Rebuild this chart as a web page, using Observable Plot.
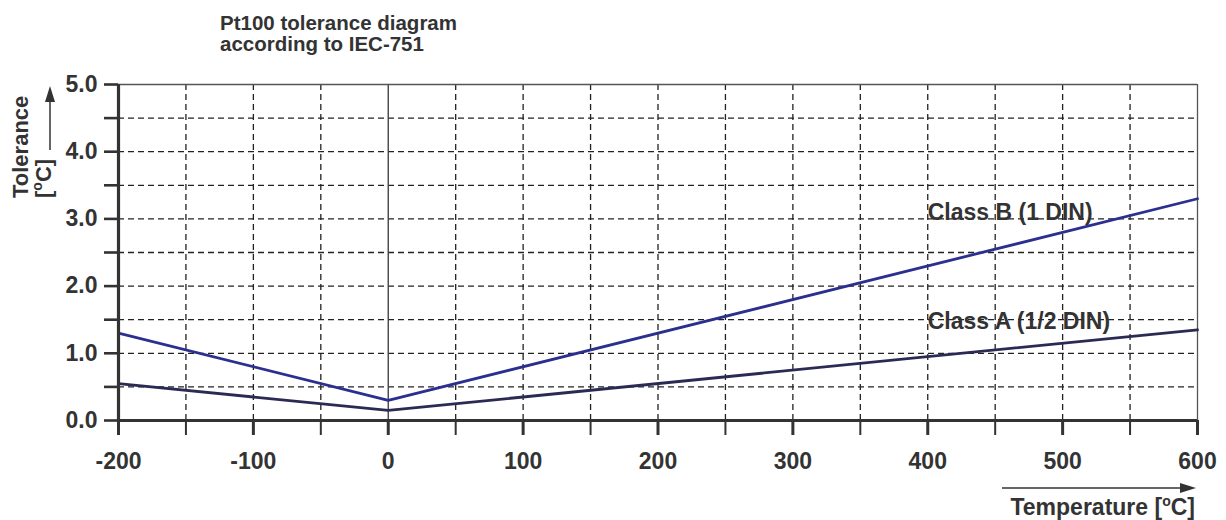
<!DOCTYPE html>
<html><head><meta charset="utf-8">
<script src="https://cdn.jsdelivr.net/npm/d3@7"></script>
<script src="https://cdn.jsdelivr.net/npm/@observablehq/plot@0.6"></script>
<style>body{margin:0;background:#fff} svg{display:block}</style>
</head><body><div id="chart"></div>
<script>
// Data
const temps = [-200, 0, 600];
const classB = [1.3, 0.3, 3.3];   // Class B (1 DIN): 0.3 + 0.005|t|
const classA = [0.55, 0.15, 1.35]; // Class A (1/2 DIN): 0.15 + 0.002|t|
const xMajorTicks = [-200, -100, 0, 100, 200, 300, 400, 500, 600];
const xMinorTicks = [-150, -50, 50, 150, 250, 350, 450, 550];
const yTicks = [0, 0.5, 1, 1.5, 2, 2.5, 3, 3.5, 4, 4.5, 5];
const yLabelTicks = [0, 1, 2, 3, 4, 5];
const xGrid = [-150, -100, -50, 50, 100, 150, 200, 250, 300, 350, 400, 450, 500, 550];
const yGrid = [0.5, 1, 1.5, 2, 2.5, 3, 3.5, 4, 4.5];
const seriesNames = ["Class B (1 DIN)", "Class A (1/2 DIN)"];
const labelPos = [{x: 400, y: 3.1}, {x: 400, y: 1.47}];

const rows = [];
temps.forEach((t, i) => {
  rows.push({series: seriesNames[0], t, tol: classB[i]});
  rows.push({series: seriesNames[1], t, tol: classA[i]});
});
const labels = seriesNames.map((s, i) => ({text: s, ...labelPos[i]}));

const font = "'Liberation Sans', Arial, Helvetica, sans-serif";
const ink = "#333";

const plot = Plot.plot({
  width: 1226, height: 520,
  marginLeft: 118, marginRight: 29, marginTop: 84, marginBottom: 100,
  x: {domain: [-200, 600], axis: null},
  y: {domain: [0, 5], axis: null},
  color: {domain: seriesNames, range: ["#2b2f8f", "#2a2a55"]},
  style: {fontFamily: font, fontWeight: "bold", fontSize: "23px", color: ink, background: "white", overflow: "visible"},
  marks: [
    Plot.ruleX(xGrid, {stroke: "#222", strokeWidth: 1.3, strokeDasharray: "6,4"}),
    Plot.ruleY(yGrid, {stroke: "#222", strokeWidth: 1.3, strokeDasharray: "6,4"}),
    Plot.ruleX([0], {stroke: "#444", strokeWidth: 1.4}),
    Plot.ruleX([600], {stroke: "#555", strokeWidth: 1.3}),
    Plot.ruleY([5], {stroke: "#555", strokeWidth: 1.3}),
    Plot.line(rows, {x: "t", y: "tol", z: "series", stroke: "series", strokeWidth: 2.8}),
    Plot.text(labels, {x: "x", y: "y", text: "text", textAnchor: "start", fill: ink, fontSize: 23, fontWeight: "bold"}),
    Plot.ruleX([-200], {stroke: ink, strokeWidth: 3.2}),
    Plot.ruleY([0], {stroke: ink, strokeWidth: 3.2}),
    Plot.axisY({ticks: yTicks, tickSize: 14, tickPadding: 7, tickFormat: d => yLabelTicks.includes(d) ? d.toFixed(1) : "",
      stroke: ink, strokeWidth: 2.6, fill: ink, fontSize: 23, fontWeight: "bold", label: null}),
    Plot.axisX({ticks: xMajorTicks, tickSize: 15, tickPadding: 17, tickFormat: d => String(d),
      stroke: ink, strokeWidth: 3, fill: ink, fontSize: 23, fontWeight: "bold", label: null}),
    Plot.axisX({ticks: xMinorTicks, tickSize: 15, tickFormat: () => "",
      stroke: ink, strokeWidth: 2, label: null})
  ]
});

document.getElementById("chart").appendChild(plot);

// Annotations: title, axis titles and arrows
const svg = d3.select(plot);
const g = svg.append("g").attr("fill", ink).attr("font-family", font).attr("font-weight", "bold").attr("text-anchor", "start");

const title = g.append("text").attr("font-size", 20.5);
title.append("tspan").attr("x", 220).attr("y", 30).text("Pt100 tolerance diagram");
title.append("tspan").attr("x", 220).attr("y", 51).text("according to IEC-751");

function degC(sel, prefix) {
  sel.append("tspan").text(prefix + "[");
  sel.append("tspan").attr("dy", -9).attr("font-size", 14).text("o");
  sel.append("tspan").attr("dy", 9).text("C]");
}

// Y axis title (rotated)
g.append("text").attr("transform", "translate(28,198) rotate(-90)").attr("font-size", 22).text("Tolerance");
degC(g.append("text").attr("transform", "translate(51,198) rotate(-90)").attr("font-size", 22), "");

// X axis title
degC(g.append("text").attr("x", 1195).attr("y", 515).attr("text-anchor", "end").attr("font-size", 23), "Temperature ");

// Arrows
g.append("line").attr("x1", 50).attr("y1", 150).attr("x2", 50).attr("y2", 100).attr("stroke", ink).attr("stroke-width", 1.5);
g.append("path").attr("d", "M50,86 L45,102 L55,102 Z");
g.append("line").attr("x1", 1002).attr("y1", 488).attr("x2", 1182).attr("y2", 488).attr("stroke", ink).attr("stroke-width", 1.5);
g.append("path").attr("d", "M1196,488 L1180,483 L1180,493 Z");
</script>
</body></html>
